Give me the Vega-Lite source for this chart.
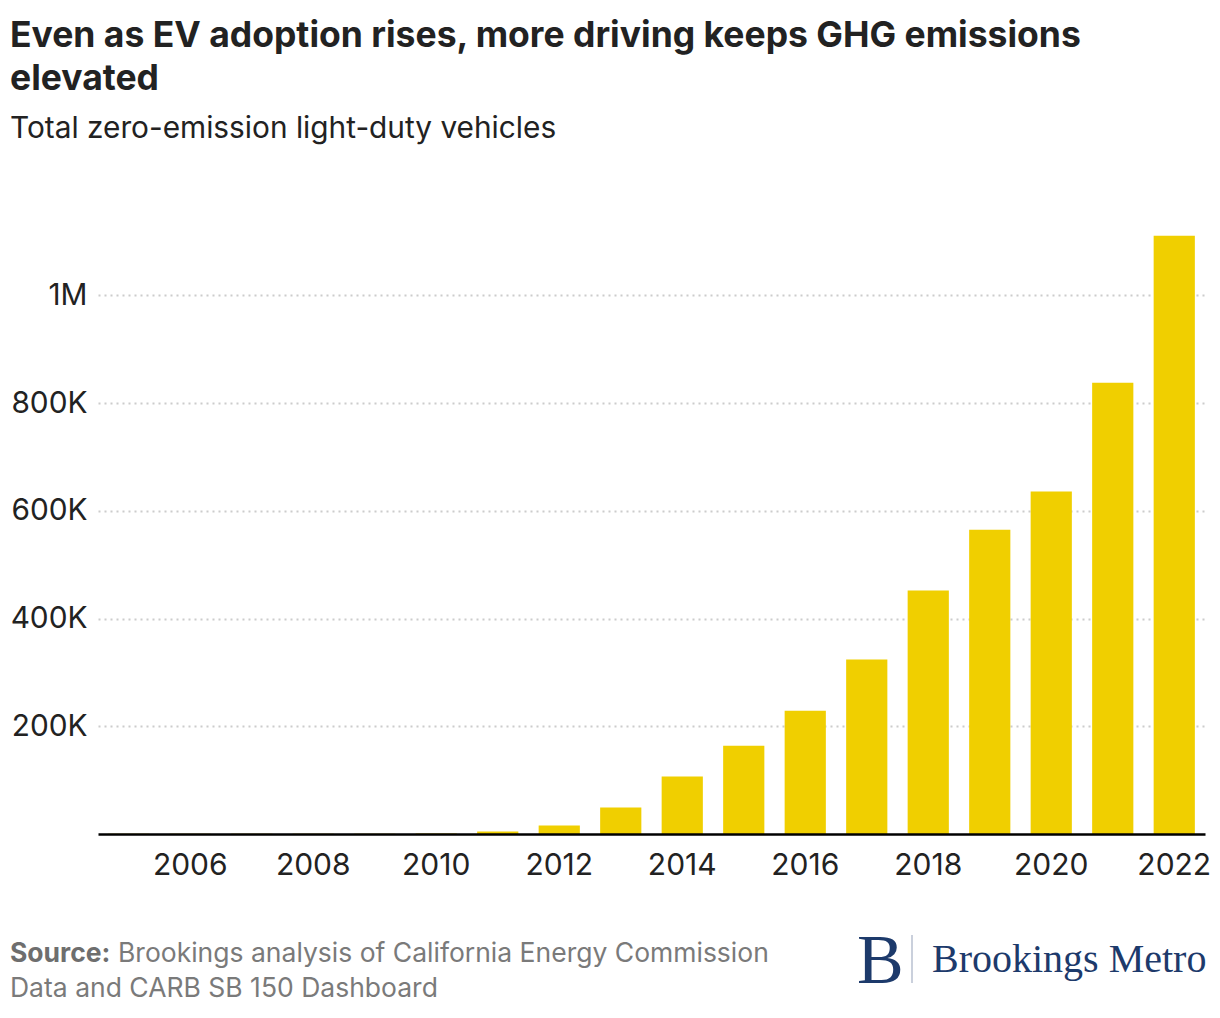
{
  "$schema": "https://vega.github.io/schema/vega-lite/v6.json",
  "width": 1107,
  "height": 664,
  "autosize": {"type": "none"},
  "padding": {"left": 98, "top": 170, "right": 15, "bottom": 184},
  "background": "white",
  "config": {
    "view": {"stroke": null},
    "font": "Inter",
    "text": {"font": "Inter"}
  },
  "title": {
    "text": ["Even as EV adoption rises, more driving keeps GHG emissions", "elevated"],
    "subtitle": "Total zero-emission light-duty vehicles",
    "anchor": "start",
    "frame": "group",
    "dx": -88,
    "offset": 26,
    "font": "Inter",
    "fontSize": 35.5,
    "fontWeight": "bold",
    "color": "#222222",
    "lineHeight": 43,
    "subtitleFont": "Inter",
    "subtitleFontSize": 29.8,
    "subtitleColor": "#222222",
    "subtitlePadding": 17
  },
  "data": {
    "values": [
      {"year": 2005, "vehicles": 300},
      {"year": 2006, "vehicles": 350},
      {"year": 2007, "vehicles": 400},
      {"year": 2008, "vehicles": 450},
      {"year": 2009, "vehicles": 500},
      {"year": 2010, "vehicles": 900},
      {"year": 2011, "vehicles": 4500},
      {"year": 2012, "vehicles": 16000},
      {"year": 2013, "vehicles": 49000},
      {"year": 2014, "vehicles": 107000},
      {"year": 2015, "vehicles": 164000},
      {"year": 2016, "vehicles": 229000},
      {"year": 2017, "vehicles": 324000},
      {"year": 2018, "vehicles": 452000},
      {"year": 2019, "vehicles": 565000},
      {"year": 2020, "vehicles": 636000},
      {"year": 2021, "vehicles": 838000},
      {"year": 2022, "vehicles": 1111000}
    ]
  },
  "layer": [
    {
      "mark": {"type": "bar", "color": "#f0cf00"},
      "encoding": {
        "x": {
          "field": "year",
          "type": "ordinal",
          "scale": {"paddingInner": 0.33, "paddingOuter": 0.165},
          "axis": {
            "title": null,
            "values": [2006, 2008, 2010, 2012, 2014, 2016, 2018, 2020, 2022],
            "labelAngle": 0,
            "labelFont": "Inter",
            "labelFontSize": 30,
            "labelColor": "#222222",
            "labelPadding": 16,
            "ticks": false,
            "domainColor": "#000000",
            "domainWidth": 2.5,
            "grid": false,
            "zindex": 2
          }
        },
        "y": {
          "field": "vehicles",
          "type": "quantitative",
          "scale": {"domain": [0, 1233000], "nice": false},
          "axis": {
            "title": null,
            "values": [200000, 400000, 600000, 800000, 1000000],
            "labelExpr": "datum.value >= 1000000 ? (datum.value / 1000000) + 'M' : (datum.value / 1000) + 'K'",
            "labelFont": "Inter",
            "labelFontSize": 29.8,
            "labelColor": "#222222",
            "labelPadding": 11,
            "ticks": false,
            "domain": false,
            "grid": true,
            "gridColor": "#cccccc",
            "gridDash": [2, 4],
            "gridWidth": 2,
            "zindex": 0
          }
        }
      }
    },
    {
      "data": {"values": [{}]},
      "mark": {"type": "text", "text": "Source:", "x": -88, "y": 792, "align": "left", "baseline": "alphabetic", "font": "Inter", "fontSize": 26.5, "fontWeight": "bold", "color": "#6e6e6e"},
      "encoding": {}
    },
    {
      "data": {"values": [{}]},
      "mark": {"type": "text", "text": "Brookings analysis of California Energy Commission", "x": 20, "y": 792, "align": "left", "baseline": "alphabetic", "font": "Inter", "fontSize": 26.5, "color": "#7a7a7a"},
      "encoding": {}
    },
    {
      "data": {"values": [{}]},
      "mark": {"type": "text", "text": "Data and CARB SB 150 Dashboard", "x": -88, "y": 827, "align": "left", "baseline": "alphabetic", "font": "Inter", "fontSize": 26.5, "color": "#7a7a7a"},
      "encoding": {}
    },
    {
      "data": {"values": [{}]},
      "mark": {"type": "text", "text": "B", "x": 759, "y": 813, "align": "left", "baseline": "alphabetic", "font": "Liberation Serif", "fontSize": 70, "color": "#1d3a6b"},
      "encoding": {}
    },
    {
      "data": {"values": [{}]},
      "mark": {"type": "rule", "color": "#b9c0d0", "strokeWidth": 1.5},
      "encoding": {"x": {"value": 814}, "y": {"value": 765}, "y2": {"value": 813}}
    },
    {
      "data": {"values": [{}]},
      "mark": {"type": "text", "text": "Brookings Metro", "x": 834, "y": 802, "align": "left", "baseline": "alphabetic", "font": "Liberation Serif", "fontSize": 40, "color": "#1d3a6b"},
      "encoding": {}
    }
  ]
}
